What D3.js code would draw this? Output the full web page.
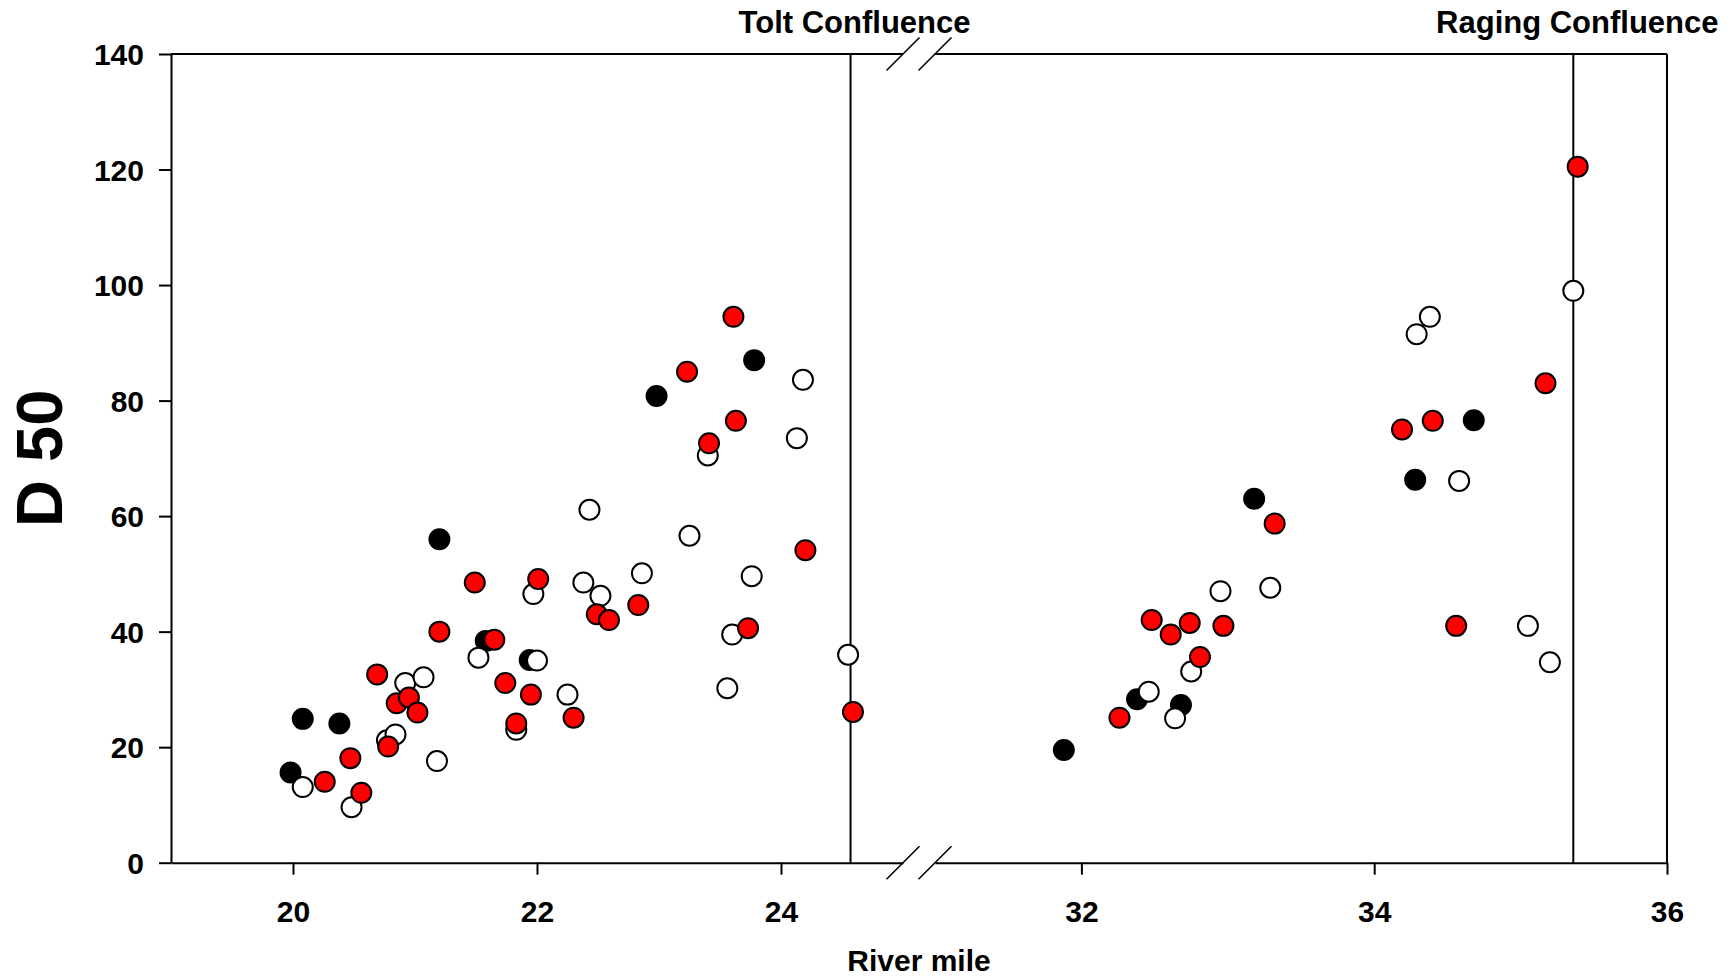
<!DOCTYPE html>
<html>
<head>
<meta charset="utf-8">
<script src="https://cdn.jsdelivr.net/npm/d3@7"></script>
<style>
  body { margin: 0; background: #fff; }
  svg { display: block; font-family: 'Liberation Sans', Arial, sans-serif; font-weight: bold; }
</style>
</head>
<body>
<svg id="chart" width="1735" height="979"></svg>
<script>
// river mile / D50 readings, split by marker type
const blackMiles = [19.98, 20.08, 20.38, 21.2, 21.58, 21.94, 22.98, 23.78,
  31.88, 32.38, 32.68, 33.18, 34.28, 34.68]
const blackD50 = [15.6, 24.9, 24.1, 56.0, 38.4, 35.1, 80.8, 87.0,
  19.5, 28.3, 27.3, 63.0, 66.3, 76.6]

const whiteMiles = [20.08, 20.48, 20.77, 20.84, 20.92, 21.07, 21.18, 21.52, 21.83, 21.97,
  22.0, 22.25, 22.38, 22.43, 22.52, 22.86, 23.25, 23.4, 23.56, 23.6, 23.76, 24.13, 24.18, 24.55,
  32.46, 32.64, 32.75, 32.95, 33.29, 34.29, 34.38, 34.58, 35.05, 35.2, 35.36]
const whiteD50 = [13.1, 9.6, 21.2, 22.2, 31.1, 32.1, 17.6, 35.5, 23.0, 46.5,
  35.0, 29.1, 48.5, 61.1, 46.2, 50.1, 56.6, 70.5, 30.2, 39.5, 49.6, 73.5, 83.6, 36.0,
  29.6, 25.0, 33.1, 47.0, 47.6, 91.5, 94.5, 66.1, 41.0, 34.7, 99.0]

const redMiles = [20.26, 20.47, 20.56, 20.69, 20.78, 20.85, 20.95, 21.02, 21.2, 21.49,
  21.65, 21.74, 21.83, 21.95, 22.01, 22.3, 22.49, 22.59, 22.83, 23.23, 23.41, 23.61, 23.63,
  23.73, 24.2, 24.59,
  32.26, 32.48, 32.61, 32.74, 32.81, 32.97, 33.32, 34.19, 34.4, 34.56, 35.17, 35.39]
const redD50 = [14.0, 18.1, 12.1, 32.6, 20.1, 27.6, 28.6, 26.0, 40.0, 48.5,
  38.6, 31.1, 24.1, 29.1, 49.1, 25.1, 43.0, 42.0, 44.6, 85.0, 72.6, 94.5, 76.5,
  40.6, 54.1, 26.1,
  25.1, 42.0, 39.5, 41.5, 35.6, 41.0, 58.7, 75.0, 76.5, 41.0, 83.0, 120.5]

const confluenceNames = ['Tolt Confluence', 'Raging Confluence']
const confluenceMiles = [24.57, 35.36]

const leftTicks = [20, 22, 24]
const rightTicks = [32, 34, 36]
const yTicks = [0, 20, 40, 60, 80, 100, 120, 140]

const PLOT_LEFT = 171
const BREAK_LEFT = 903
const BREAK_RIGHT = 935
const PLOT_RIGHT = 1667
const PLOT_TOP = 54
const PLOT_BOTTOM = 862.7
const FONT_SIZE = 30
const DOT_R = 10

const svg = d3.select('#chart')

const xLeft = d3.scaleLinear().domain([19, 25]).range([PLOT_LEFT, BREAK_LEFT])
const xRight = d3.scaleLinear().domain([31, 36]).range([BREAK_RIGHT, PLOT_RIGHT])
const y = d3.scaleLinear().domain([0, 140]).range([PLOT_BOTTOM, PLOT_TOP])

// pick the panel a river mile falls in
const xPos = (m) => (m < 28 ? xLeft(m) : xRight(m))

const styleAxis = (g) => {
  g.select('.domain').attr('stroke', '#000').attr('stroke-width', 2)
  g.selectAll('.tick line').attr('stroke', '#000').attr('stroke-width', 2)
  g.selectAll('.tick text')
    .attr('fill', '#000')
    .style('font-size', `${FONT_SIZE}px`)
    .style('font-weight', 'bold')
}

// y axis
svg.append('g')
  .attr('transform', `translate(${PLOT_LEFT},0)`)
  .call(d3.axisLeft(y).tickValues(yTicks).tickFormat(d3.format('d'))
    .tickSize(12).tickSizeOuter(0).tickPadding(15))
  .call(styleAxis)
  .call((g) => g.selectAll('.tick text').attr('dy', '0.36em'))

// bottom axes, one per panel
for (const [scale, ticks] of [[xLeft, leftTicks], [xRight, rightTicks]]) {
  svg.append('g')
    .attr('transform', `translate(0,${PLOT_BOTTOM})`)
    .call(d3.axisBottom(scale).tickValues(ticks).tickFormat(d3.format('d'))
      .tickSize(12).tickSizeOuter(0))
    .call(styleAxis)
    .call((g) => g.selectAll('.tick text').attr('y', 59).attr('dy', 0))
}

// top and right frame
const frame = svg.append('g').attr('stroke', '#000').attr('stroke-width', 2)
frame.append('line')
  .attr('x1', PLOT_LEFT).attr('x2', BREAK_LEFT)
  .attr('y1', PLOT_TOP).attr('y2', PLOT_TOP)
frame.append('line')
  .attr('x1', BREAK_RIGHT).attr('x2', PLOT_RIGHT)
  .attr('y1', PLOT_TOP).attr('y2', PLOT_TOP)
frame.append('line')
  .attr('x1', PLOT_RIGHT).attr('x2', PLOT_RIGHT)
  .attr('y1', PLOT_TOP).attr('y2', PLOT_BOTTOM)

// axis break marks
const slashes = svg.append('g').attr('stroke', '#000').attr('stroke-width', 1.6)
for (const cy of [PLOT_TOP, PLOT_BOTTOM]) {
  for (const cx of [BREAK_LEFT, BREAK_RIGHT]) {
    slashes.append('line')
      .attr('x1', cx - 16.5).attr('y1', cy + 16.5)
      .attr('x2', cx + 16.5).attr('y2', cy - 16.5)
  }
}

// confluence lines and labels
confluenceMiles.forEach((m, i) => {
  svg.append('line')
    .attr('x1', xPos(m)).attr('x2', xPos(m))
    .attr('y1', PLOT_TOP).attr('y2', PLOT_BOTTOM)
    .attr('stroke', '#000')
    .attr('stroke-width', 2)
  svg.append('text')
    .attr('x', xPos(m) + 4)
    .attr('y', 33)
    .attr('text-anchor', 'middle')
    .style('font-size', '31px')
    .text(confluenceNames[i])
})

// points: black underneath, then open, then red
const series = [
  { miles: blackMiles, values: blackD50, fill: '#000' },
  { miles: whiteMiles, values: whiteD50, fill: '#fff' },
  { miles: redMiles, values: redD50, fill: '#ff0000' }
]
for (const s of series) {
  svg.append('g')
    .selectAll('circle')
    .data(s.miles.map((m, i) => [m, s.values[i]]))
    .join('circle')
    .attr('cx', (d) => xPos(d[0]))
    .attr('cy', (d) => y(d[1]))
    .attr('r', DOT_R)
    .attr('fill', s.fill)
    .attr('stroke', '#000')
    .attr('stroke-width', 2)
}

// axis titles
svg.append('text')
  .attr('x', (PLOT_LEFT + PLOT_RIGHT) / 2)
  .attr('y', 971)
  .attr('text-anchor', 'middle')
  .style('font-size', `${FONT_SIZE}px`)
  .text('River mile')

svg.append('text')
  .attr('transform', `translate(62,${(PLOT_TOP + PLOT_BOTTOM) / 2}) rotate(-90)`)
  .attr('text-anchor', 'middle')
  .style('font-size', '65px')
  .text('D 50')
</script>
</body>
</html>
